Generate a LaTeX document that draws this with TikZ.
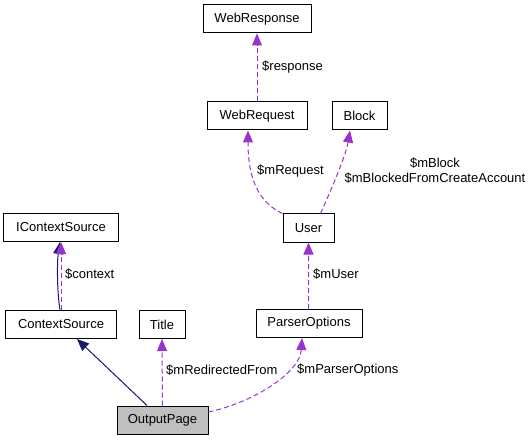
\documentclass[tikz,border=0pt]{standalone}
\usepackage{fontspec}
\setmainfont{Liberation Sans}
\usetikzlibrary{arrows.meta}
\definecolor{navyc}{HTML}{191970}
\definecolor{purp}{HTML}{9A32CD}
\definecolor{grayfill}{HTML}{BFBFBF}
\begin{document}
\begin{tikzpicture}[x=1bp,y=-1bp,
  font=\fontsize{13bp}{15bp}\selectfont,
  box/.style={draw=black, line width=1bp, minimum height=28bp, inner sep=0pt, fill=white},
  usage/.style={draw=purp, line width=1bp, dash pattern=on 5bp off 3bp, -{Triangle[length=12bp,width=10bp,fill=purp]}},
  inherit/.style={draw=navyc, line width=1bp, -{Triangle[length=12bp,width=10bp,fill=navyc]}},
  lbl/.style={inner sep=0pt, anchor=west, align=center}]
\useasboundingbox (0,0) rectangle (532,440);
\node[box, minimum width=108bp] (WebResponse) at (257,19) {WebResponse};
\node[box, minimum width=100bp] (WebRequest) at (257,116) {WebRequest};
\node[box, minimum width=55bp] (Block) at (359.5,116) {Block};
\node[box, minimum width=51bp] (User) at (308.5,228) {User};
\node[box, minimum width=114bp] (IContextSource) at (61,227.5) {IContextSource};
\node[box, minimum width=110bp] (ContextSource) at (61,324.5) {ContextSource};
\node[box, minimum width=46bp] (Title) at (162,324.5) {Title};
\node[box, minimum width=106bp] (ParserOptions) at (309,323.5) {ParserOptions};
\node[box, minimum width=91bp, fill=grayfill] (OutputPage) at (162.5,420) {OutputPage};
% edges
\draw[usage] (WebRequest.north) -- (WebResponse.south);
\node[lbl] (lresponse) at (262,67) {\$response};
\draw[usage] (User.north west) .. controls (258,202) and (248,178) .. ([xshift=-9bp]WebRequest.south);
\node[lbl] (lrequest) at (257,171) {\$mRequest};
\draw[usage] ([xshift=12bp]User.north) .. controls (332,188) and (346,155) .. ([xshift=-9.5bp]Block.south);
\node[inner sep=0pt, align=center] (lblock) at (435,171) {\$mBlock\\\$mBlockedFromCreateAccount};
\draw[usage] ([xshift=-0.5bp]ParserOptions.north) -- ([xshift=0bp]User.south);
\node[lbl] (luser) at (313,274) {\$mUser};
\draw[inherit] ([xshift=-1bp]ContextSource.north) .. controls (57,292) and (57,262) .. ([xshift=-1bp]IContextSource.south);
\draw[usage] (ContextSource.north) -- (IContextSource.south);
\node[lbl] (lcontext) at (65,274) {\$context};
\draw[inherit] ([xshift=-15.5bp]OutputPage.north) -- ([xshift=16bp]ContextSource.south);
\draw[usage] (OutputPage.north) -- (Title.south);
\node[lbl] (lredir) at (166,370) {\$mRedirectedFrom};
\draw[usage] ([yshift=8bp]OutputPage.east) .. controls (255,402) and (300,372) .. ([xshift=-7bp]ParserOptions.south);
\node[lbl] (lparser) at (297,370) {\$mParserOptions};
\end{tikzpicture}
\end{document}
